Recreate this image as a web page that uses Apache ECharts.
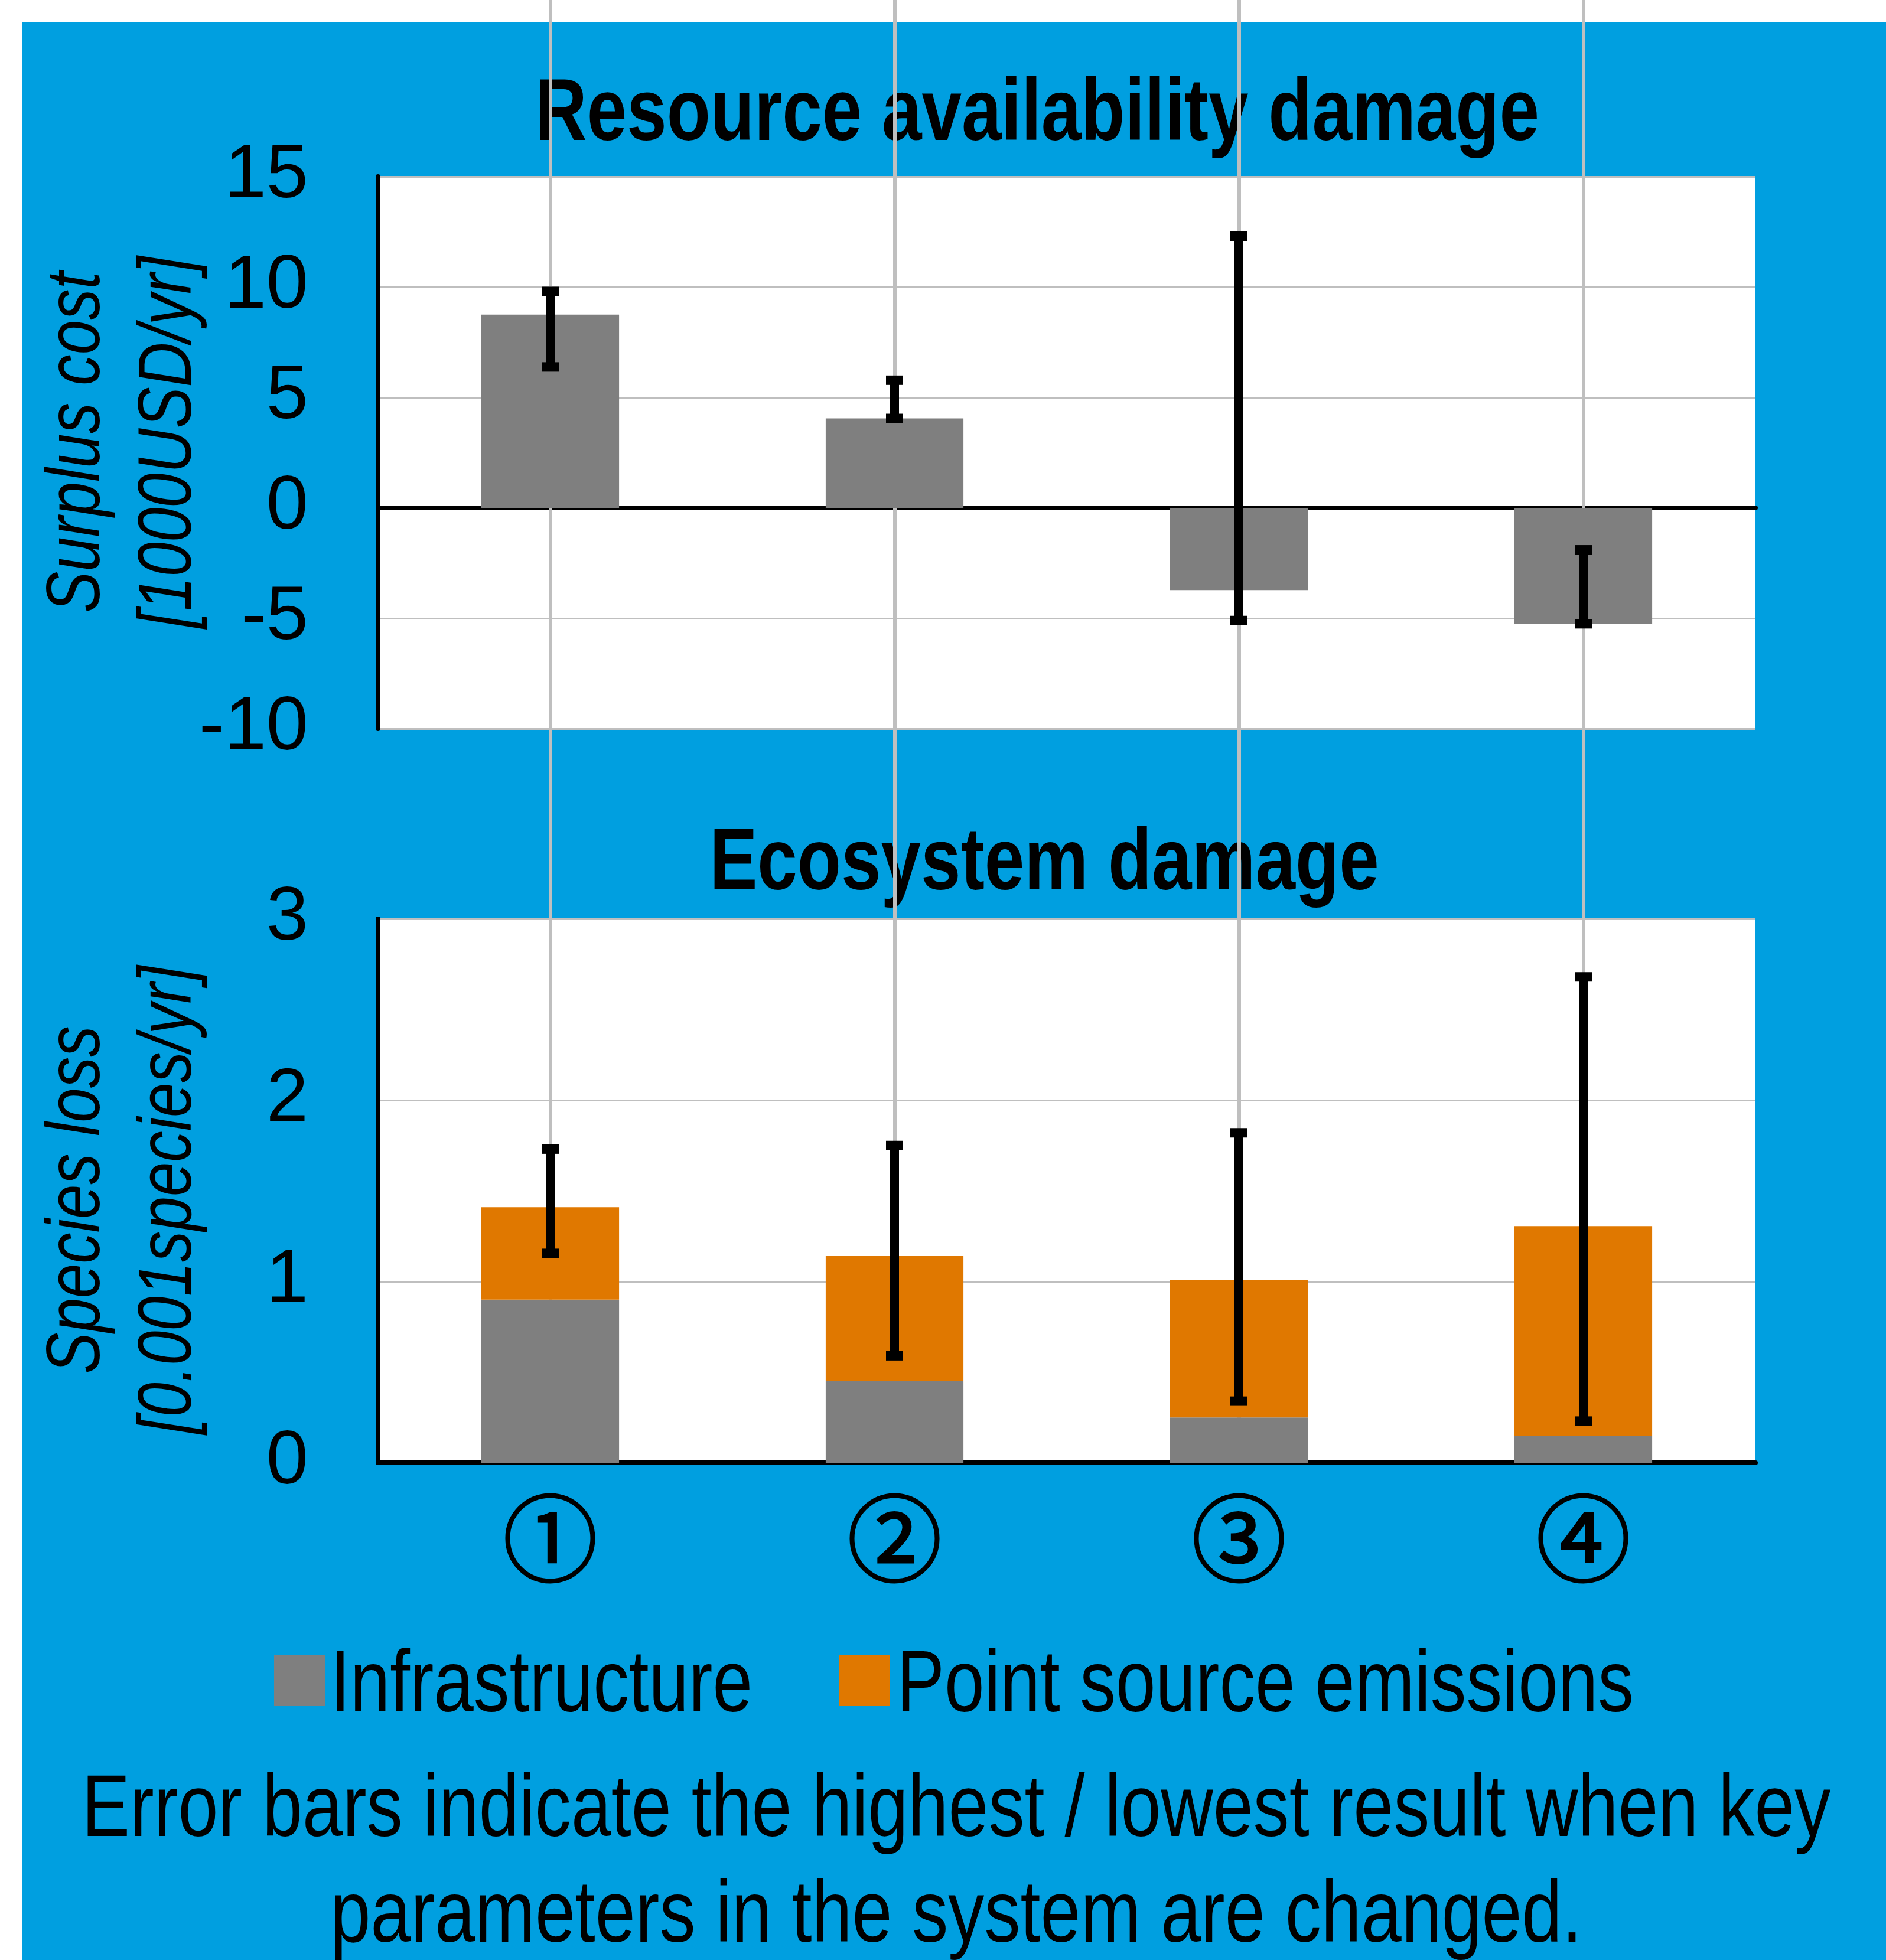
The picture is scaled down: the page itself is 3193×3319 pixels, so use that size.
<!DOCTYPE html>
<html>
<head>
<meta charset="utf-8">
<script src="https://cdn.jsdelivr.net/npm/echarts@6/dist/echarts.min.js"></script>
<style>
html,body{margin:0;padding:0;background:#ffffff;}
#chart{width:3193px;height:3319px;}
</style>
</head>
<body>
<div id="chart"></div>
<script>
// ---- data ----
const categories = ['①', '②', '③', '④'];
const resourceInfrastructure = [8.75, 4.05, -3.72, -5.25];
const resourceHigh = [9.8, 5.78, 12.3, -1.9];
const resourceLow = [6.38, 4.05, -5.1, -5.25];
const ecoInfrastructure = [0.90, 0.45, 0.25, 0.15];
const ecoPointSource = [0.51, 0.69, 0.76, 1.155];
const ecoHigh = [1.73, 1.75, 1.82, 2.68];
const ecoLow = [1.155, 0.59, 0.34, 0.23];
const resourceAxis = { min: -10, max: 15, interval: 5 };
const ecoAxis = { min: 0, max: 3, interval: 1 };
const seriesNames = ['Infrastructure', 'Point source emissions'];
const titles = ['Resource availability damage', 'Ecosystem damage'];
const axisNames = [['Surplus cost', '[1000USD/yr]'], ['Species loss', '[0.001species/yr]']];
const footnote = ['Error bars indicate the highest / lowest result when key', 'parameters in the system are changed.'];

// ---- styles ----
const FONT = "'Liberation Sans Narrow', 'Arial Narrow', 'Liberation Sans', Arial, sans-serif";
const NARROW = 0.82; // horizontal condensing to mimic a narrow face
const BLUE = '#009FE0';
const GREY = '#7F7F7F';
const ORANGE = '#E07800';
const GRIDC = '#BFBFBF';

const chart = echarts.init(document.getElementById('chart'), null, { renderer: 'canvas' });

function errorBar(params, api) {
  const x = api.value(0);
  const top = api.coord([x, api.value(1)]);
  const bot = api.coord([x, api.value(2)]);
  const lw = 15, capW = 29, capH = 16;
  return {
    type: 'group',
    children: [
      { type: 'rect', shape: { x: top[0] - lw / 2, y: top[1], width: lw, height: bot[1] - top[1] }, style: { fill: '#000' } },
      { type: 'rect', shape: { x: top[0] - capW / 2, y: top[1] - capH / 2, width: capW, height: capH }, style: { fill: '#000' } },
      { type: 'rect', shape: { x: bot[0] - capW / 2, y: bot[1] - capH / 2, width: capW, height: capH }, style: { fill: '#000' } }
    ]
  };
}

function narrowText(text, x, y, opts) {
  const o = opts || {};
  return {
    type: 'text', x: x, y: y, z: 0, scaleX: NARROW, rotation: o.rotation || 0, silent: true,
    style: {
      text: text, fill: '#000',
      fontSize: o.fontSize || 148, fontWeight: o.fontWeight || 'normal', fontStyle: o.fontStyle || 'normal',
      fontFamily: FONT, lineHeight: o.lineHeight,
      align: o.align || 'center', verticalAlign: 'middle',
      textAlign: o.align || 'center', textVerticalAlign: 'middle'
    }
  };
}

const yAxisCommon = {
  type: 'value',
  axisLine: { show: true, lineStyle: { color: '#000', width: 8 } },
  axisTick: { show: false },
  splitLine: { show: true, lineStyle: { color: GRIDC, width: 3 } },
  axisLabel: { fontSize: 128, color: '#000', fontFamily: FONT, margin: 118 }
};

const legendCommon = {
  top: 2802, padding: 0, itemWidth: 86, itemHeight: 87, icon: 'rect',
  formatter: () => '', textStyle: { fontSize: 10 }
};

const option = {
  backgroundColor: '#ffffff',
  animation: false,
  graphic: [
    { type: 'rect', z: -10, silent: true, shape: { x: 37, y: 38, width: 3193 - 37, height: 3319 - 38 }, style: { fill: BLUE } },
    narrowText(titles[0], 1756, 196, { fontWeight: 'bold' }),
    narrowText(titles[1], 1768, 1465, { fontWeight: 'bold' }),
    narrowText(footnote.join('\n'), 1619, 3157, { fontSize: 149, lineHeight: 179 }),
    narrowText(seriesNames[0], 559, 2857, { align: 'left' }),
    narrowText(seriesNames[1], 1518, 2857, { align: 'left' }),
    narrowText(axisNames[0].join('\n'), 210, 749, { fontSize: 128, fontStyle: 'italic', lineHeight: 155, rotation: Math.PI / 2 }),
    narrowText(axisNames[1].join('\n'), 210, 2032, { fontSize: 128, fontStyle: 'italic', lineHeight: 155, rotation: Math.PI / 2 })
  ],
  legend: [
    Object.assign({ data: [seriesNames[0]], left: 464 }, legendCommon),
    Object.assign({ data: [seriesNames[1]], left: 1421 }, legendCommon)
  ],
  grid: [
    { left: 640, width: 2332, top: 299, height: 935, show: true, backgroundColor: '#fff', borderWidth: 0 },
    { left: 640, width: 2332, top: 1556, height: 921, show: true, backgroundColor: '#fff', borderWidth: 0 },
    { left: 640, width: 2332, top: 0, height: 2477, show: false }
  ],
  xAxis: [
    { type: 'category', gridIndex: 0, data: categories,
      axisLine: { show: true, onZero: true, lineStyle: { color: '#000', width: 8 } },
      axisTick: { show: false }, axisLabel: { show: false }, splitLine: { show: false } },
    { type: 'category', gridIndex: 1, data: categories,
      axisLine: { show: true, lineStyle: { color: '#000', width: 8 } },
      axisTick: { show: false }, splitLine: { show: false },
      axisLabel: { fontSize: 160, fontWeight: 'normal', color: '#000', fontFamily: "'Noto Sans CJK JP', sans-serif",
        margin: 48, textBorderColor: '#000', textBorderWidth: 3 } },
    { type: 'category', gridIndex: 2, data: categories, show: false }
  ],
  yAxis: [
    Object.assign({}, yAxisCommon, { gridIndex: 0, min: resourceAxis.min, max: resourceAxis.max, interval: resourceAxis.interval }),
    Object.assign({}, yAxisCommon, { gridIndex: 1, min: ecoAxis.min, max: ecoAxis.max, interval: ecoAxis.interval }),
    { type: 'value', gridIndex: 2, show: false, min: 0, max: 1 }
  ],
  series: [
    { name: 'guides', type: 'line', xAxisIndex: 2, yAxisIndex: 2, data: categories.map(() => '-'),
      symbol: 'none', lineStyle: { opacity: 0 }, silent: true,
      markLine: { silent: true, z: 1, symbol: ['none', 'none'], label: { show: false },
        lineStyle: { color: GRIDC, width: 6, type: 'solid' },
        data: categories.map(c => ({ xAxis: c })) } },
    { name: seriesNames[0], type: 'bar', xAxisIndex: 0, yAxisIndex: 0, data: resourceInfrastructure,
      barWidth: '40%', itemStyle: { color: GREY }, z: 2 },
    { name: 'resErr', type: 'custom', xAxisIndex: 0, yAxisIndex: 0, renderItem: errorBar, z: 3,
      encode: { x: 0, y: [1, 2] },
      data: categories.map((c, i) => [i, resourceHigh[i], resourceLow[i]]) },
    { name: seriesNames[0], type: 'bar', xAxisIndex: 1, yAxisIndex: 1, stack: 'eco', data: ecoInfrastructure,
      barWidth: '40%', itemStyle: { color: GREY }, z: 2 },
    { name: seriesNames[1], type: 'bar', xAxisIndex: 1, yAxisIndex: 1, stack: 'eco', data: ecoPointSource,
      barWidth: '40%', itemStyle: { color: ORANGE }, z: 2 },
    { name: 'ecoErr', type: 'custom', xAxisIndex: 1, yAxisIndex: 1, renderItem: errorBar, z: 3,
      encode: { x: 0, y: [1, 2] },
      data: categories.map((c, i) => [i, ecoHigh[i], ecoLow[i]]) }
  ]
};
chart.setOption(option);
</script>
</body>
</html>
